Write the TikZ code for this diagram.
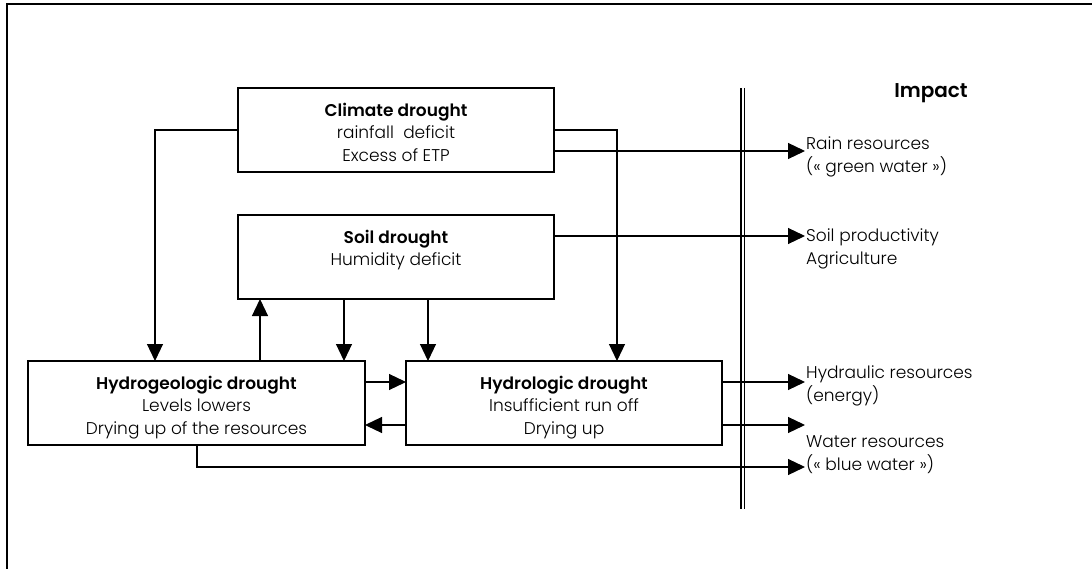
\documentclass[tikz,border=0pt]{standalone}
\usepackage{fontspec}
\setmainfont{Poppins}[UprightFont=* Light, BoldFont=* SemiBold]
\usetikzlibrary{arrows.meta}
\begin{document}
\begin{tikzpicture}[x=1pt,y=-1pt,
  box/.style={draw, line width=1.2pt, minimum height=84pt, inner sep=0pt, outer sep=0pt},
  lbl/.style={anchor=north, align=center, inner sep=0pt, font=\fontsize{17}{22.8}\selectfont},
  imp/.style={anchor=north west, align=left, inner sep=0pt, font=\fontsize{17}{23}\selectfont},
  arr/.style={-{Triangle[length=17pt,width=16pt]}, line width=1.2pt},
  ln/.style={line width=1.2pt}]
\useasboundingbox (0,0) rectangle (1092,569);
% frame (top and left edges)
\draw[line width=1.5pt] (7,569) -- (7,4) -- (1092,4);
% boxes
\node[box, minimum width=316pt] (cl) at (396,130) {};
\node[box, minimum width=316pt] (so) at (396,257) {};
\node[box, minimum width=337pt] (hg) at (196.5,403) {};
\node[box, minimum width=316pt] (hl) at (564,403) {};
\node[lbl] (cltxt) at ([yshift=-14.5pt]cl.north) {\textbf{Climate drought}\\rainfall\ \ deficit\\Excess of ETP};
\node[lbl] (sotxt) at ([yshift=-14.5pt]so.north) {\textbf{Soil drought}\\Humidity deficit};
\node[lbl] (hgtxt) at ([yshift=-14.5pt]hg.north) {\textbf{Hydrogeologic drought}\\Levels lowers\\Drying up of the resources};
\node[lbl] (hltxt) at ([yshift=-14.5pt]hl.north) {\textbf{Hydrologic drought}\\Insufficient run off\\Drying up};
% double separator
\draw[ln] (741,88) -- (741,509);
\draw[ln] (744.5,88) -- (744.5,509);
\node[font=\fontsize{20}{22}\selectfont\bfseries] (impact) at (931,93) {Impact};
% helper coordinates
\coordinate (x155) at (155,0);
\coordinate (x617) at (617,0);
\coordinate (x260) at (260,0);
\coordinate (x344) at (344,0);
\coordinate (x428) at (428,0);
\coordinate (x197) at (197,0);
\coordinate (y151) at (0,151);
\coordinate (y236) at (0,236);
\coordinate (y382) at (0,382);
\coordinate (y425) at (0,425);
\coordinate (y467) at (0,467);
\coordinate (t1) at (805,151);
\coordinate (t2) at (805,236);
\coordinate (t3) at (805,382);
\coordinate (t4) at (805,425);
\coordinate (t5) at (805,467);
% impact texts
\node[imp] (rain) at (806,137) {Rain resources\\(« green water »)};
\node[imp] (soilp) at (806,229) {Soil productivity\\Agriculture};
\node[imp] (hydr) at (806,366) {Hydraulic resources\\(energy)};
\node[imp] (water) at (806,435) {Water resources\\(« blue water »)};
% connectors
\draw[arr] (cl.west) -| (x155 |- hg.north);
\draw[arr] (cl.east) -| (x617 |- hl.north);
\draw[arr] (cl.east |- y151) -- (t1);
\draw[arr] (so.east |- y236) -- (t2);
\draw[arr] (x260 |- hg.north) -- (x260 |- so.south);
\draw[arr] (x344 |- so.south) -- (x344 |- hg.north);
\draw[arr] (x428 |- so.south) -- (x428 |- hl.north);
\draw[arr] (hg.east |- y382) -- (hl.west |- y382);
\draw[arr] (hl.west |- y425) -- (hg.east |- y425);
\draw[arr] (hl.east |- y382) -- (t3);
\draw[arr] (hl.east |- y425) -- (t4);
\draw[arr] (x197 |- hg.south) -- (x197 |- y467) -- (t5);
\end{tikzpicture}
\end{document}
